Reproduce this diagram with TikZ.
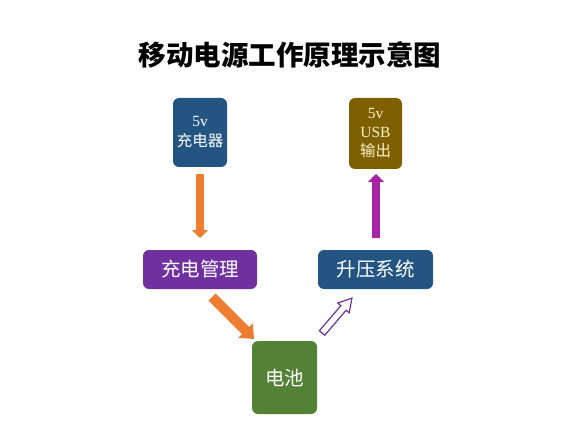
\documentclass[tikz,border=0pt]{standalone}
\usepackage{fontspec}
\setmainfont{Liberation Serif}
\newfontfamily\cjk{Noto Sans CJK SC}
\usetikzlibrary{arrows.meta}
\definecolor{cblue}{HTML}{245582}
\definecolor{colive}{HTML}{7F6000}
\definecolor{cpurple}{HTML}{7030A0}
\definecolor{cgreen}{HTML}{538135}
\definecolor{corange}{HTML}{ED7D31}
\definecolor{cmagenta}{HTML}{A523A5}
\definecolor{cyel}{HTML}{FFF2CC}
\tikzset{
  box/.style={rounded corners=6pt, inner sep=0pt, align=center, text=white},
  smalltxt/.style={font=\fontsize{15.5}{18}\selectfont},
  bigtxt/.style={font=\cjk\fontsize{19.5}{22}\selectfont},
  solidarrow/.style={line width=8pt, -{Triangle[length=8pt,width=16pt]}},
}
\begin{document}
\begin{tikzpicture}[x=1pt,y=-1pt]
\useasboundingbox (0,0) rectangle (564,430);
\fill[white] (0,0) rectangle (564,430);
\node (title) at (290,55) {\cjk\bfseries\fontsize{27.5}{30}\selectfont 移动电源工作原理示意图};
\node[box, fill=cblue, minimum width=54pt, minimum height=69pt, smalltxt] (charger) at (200,132.5)
  {5v\\[2pt]{\cjk 充电器}};
\node[box, fill=colive, minimum width=53pt, minimum height=71pt, smalltxt, text=cyel] (usb) at (375.5,133.5)
  {5v\\[1pt]USB\\[1pt]{\cjk 输出}};
\node[box, fill=cpurple, minimum width=114pt, minimum height=39pt, bigtxt] (mgmt) at (200,269.5) {充电管理};
\node[box, fill=cblue, minimum width=115pt, minimum height=39pt, bigtxt] (boost) at (375.5,269.5) {升压系统};
\node[box, fill=cgreen, minimum width=65pt, minimum height=73pt, bigtxt] (batt) at (284.5,377.5) {电池};
% vertical arrows
\draw[solidarrow, corange] (200,174) -- (200,238);
\draw[solidarrow, cmagenta] (376,238) -- (376,174);
% diagonal orange arrow
\draw[line width=10pt, corange, -{Triangle[length=12pt,width=20pt]}] (212,297) -- (254,339);
% hollow arrow
\begin{scope}[shift={(322,333)}, rotate=49.4]
\draw[cpurple, line width=1.2pt, fill=white, line join=miter]
  (0,-3.5) -- (33,-3.5) -- (33,-7.5) -- (46,0) -- (33,7.5) -- (33,3.5) -- (0,3.5) -- cycle;
\end{scope}
\end{tikzpicture}
\end{document}
